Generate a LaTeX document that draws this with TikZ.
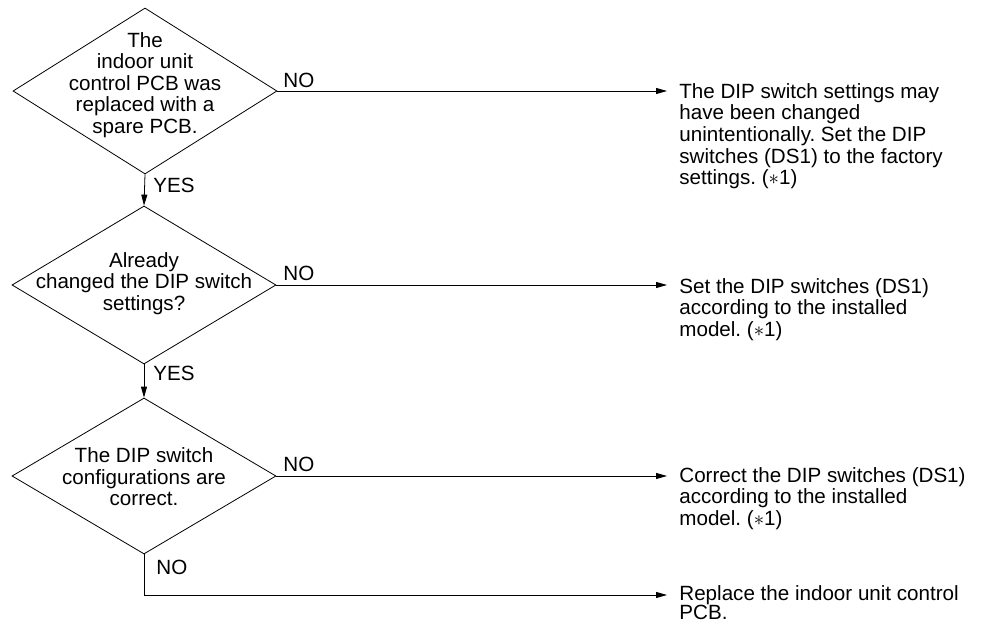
\documentclass[tikz,border=0pt]{standalone}
\usepackage{fontspec}
\setmainfont{Liberation Sans}
\usetikzlibrary{arrows.meta,shapes.geometric}
\begin{document}
\frenchspacing
\begin{tikzpicture}[x=1pt,y=-1pt,line width=0.8pt,
  dia/.style={diamond,draw,inner sep=0pt,minimum width=264pt,minimum height=#1},
  txt/.style={font=\fontsize{20.6}{21.6}\selectfont,inner sep=0pt},
  dtext/.style={txt,align=center},
  rtext/.style={txt,align=left,anchor=north west},
  lbl/.style={txt},
  arr/.style={-{Triangle[length=11pt,width=6pt]}}]
\useasboundingbox (0,0) rectangle (989,623);
% decisions
\node[dia=166pt] (d1) at (145,91) {};
\node[dtext] (d1t) at (145,85) {The\\indoor unit\\control PCB was\\replaced with a\\spare PCB.};
\node[dia=158pt] (d2) at (144,285) {};
\node[dtext] (d2t) at (144,283.5) {Already\\changed the DIP switch\\settings?};
\node[dia=156pt] (d3) at (144,476) {};
\node[dtext] (d3t) at (144,477) {The DIP switch\\configurations are\\correct.};
% results
\node[rtext] (t1) at (679,83) {The DIP switch settings may\\have been changed\\unintentionally. Set the DIP\\switches (DS1) to the factory\\settings. ($\ast$1)};
\node[rtext] (t2) at (679,278) {Set the DIP switches (DS1)\\according to the installed\\model. ($\ast$1)};
\node[rtext] (t3) at (679,467) {Correct the DIP switches (DS1)\\according to the installed\\model. ($\ast$1)};
\node[rtext,font=\fontsize{20.6}{18}\selectfont] (t4) at (679,585) {Replace the indoor unit control\\PCB.};
% arrow ends
\coordinate (e1) at (667,91);
\coordinate (e2) at (667,285);
\coordinate (e3) at (667,476);
\coordinate (e4) at (667,595);
% connectors
\draw[arr] (d1.south) -- (d2.north);
\draw[arr] (d2.south) -- (d3.north);
\draw[arr] (d1.east) -- (e1);
\draw[arr] (d2.east) -- (e2);
\draw[arr] (d3.east) -- (e3);
\draw[arr] (d3.south) |- (e4);
% labels
\node[lbl,anchor=south west] (n1) at (283,88) {NO};
\node[lbl,anchor=south west] (n2) at (283,281) {NO};
\node[lbl,anchor=south west] (n3) at (283,472) {NO};
\node[lbl,anchor=north west] (y1) at (153,178) {YES};
\node[lbl,anchor=north west] (y2) at (153,366) {YES};
\node[lbl,anchor=north west] (n4) at (156,560) {NO};
\end{tikzpicture}
\end{document}
